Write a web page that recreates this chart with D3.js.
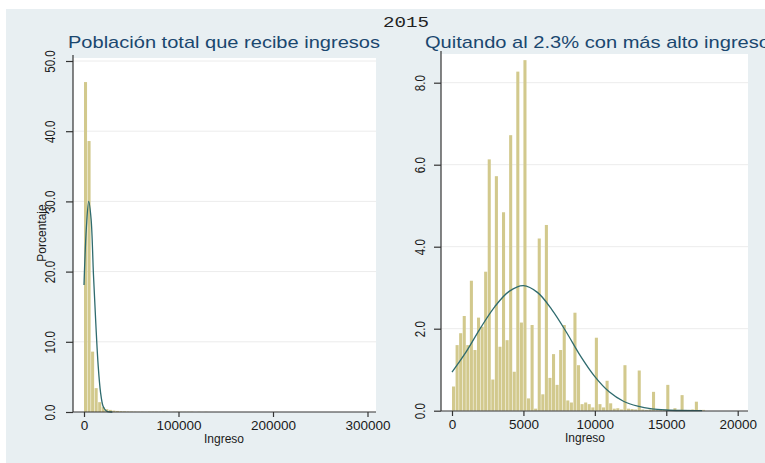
<!DOCTYPE html>
<html>
<head>
<meta charset="utf-8">
<script src="https://cdn.jsdelivr.net/npm/d3@7"></script>
<style>
body { margin: 0; background: #fff; }
svg { display: block; font-family: "Liberation Sans", Arial, sans-serif; }
</style>
</head>
<body>
<svg></svg>
<script>
var W = 765, H = 463;

// texts
var yearLabel = "2015";
var leftTitle = "Población total que recibe ingresos";
var rightTitle = "Quitando al 2.3% con más alto ingreso";
var xTitle = "Ingreso";
var yTitle = "Porcentaje";

// left panel: everybody with income, bins of 3750
var leftBinWidth = 3750;
var leftPct = [47.0, 38.6, 8.6, 3.4, 1.4, 0.7, 0.4, 0.3, 0.2, 0.15, 0.1, 0.08, 0.06, 0.05,
  0.04, 0.03, 0.03, 0.02, 0.03, 0.03, 0.03, 0.02, 0.03, 0.02, 0, 0.02, 0.03, 0.02, 0.02,
  0.02, 0.03, 0, 0.02, 0, 0.02, 0, 0, 0, 0, 0, 0, 0, 0, 0, 0, 0, 0, 0, 0, 0, 0, 0, 0, 0, 0.02];
var leftCurveX = [0, 2500, 5000, 7500, 10000, 12500, 15000, 17500, 20000, 22500, 25000, 30000];
var leftCurveY = [18.1, 26.2, 30.0, 27.5, 19.6, 12.6, 6.6, 2.8, 0.9, 0.3, 0.05, 0];
var leftXTicks = [0, 100000, 200000, 300000];
var leftYTicks = [0, 10, 20, 30, 40, 50];

// right panel: top 2.3% removed, bins of 250
var rightBinWidth = 250;
var rightPct = [0.59, 1.60, 1.89, 2.31, 1.60, 3.17, 1.48, 2.27, 2.05, 3.39,
  6.13, 0.76, 5.72, 1.56, 4.84, 1.72, 6.72, 0.95, 8.27, 2.15,
  8.55, 0.30, 2.09, 0.05, 4.20, 0.40, 4.53, 0.80, 1.38, 0.63,
  1.48, 2.09, 0.25, 0.20, 2.39, 1.11, 0.16, 0.20, 0.16, 0.08,
  1.78, 0.16, 0.08, 0.73, 0.18, 0.05, 0.06, 0.03, 1.11, 0.05,
  0.04, 0.03, 0.98, 0.03, 0.02, 0.03, 0.46, 0.02, 0.02, 0.03,
  0.63, 0.02, 0.06, 0.02, 0.38, 0.02, 0.02, 0.03, 0.22, 0.02, 0.02];
var rightCurveX = [0, 1000, 2000, 3000, 4000, 5000, 6000, 7000, 8000, 9000, 10000,
  11000, 12000, 13000, 14000, 15000, 16000, 17500];
var rightCurveY = [0.94, 1.44, 2.02, 2.54, 2.91, 3.05, 2.88, 2.46, 1.92, 1.33, 0.83,
  0.46, 0.23, 0.11, 0.045, 0.017, 0.005, 0];
var rightXTicks = [0, 5000, 10000, 15000, 20000];
var rightYTicks = [0, 2, 4, 6, 8];

var barColor = "#d2c98d";
var lineColor = "#2f6b6e";
var bgColor = "#e8eff2";
var textColor = "#1a1a1a";

var svg = d3.select("svg").attr("width", W).attr("height", H);

// background
svg.append("rect").attr("x", 0).attr("y", 0).attr("width", W).attr("height", H).attr("fill", "#fff");
svg.append("rect").attr("x", 6).attr("y", 9).attr("width", W - 6).attr("height", H - 9).attr("fill", bgColor);

svg.append("text")
  .attr("x", 383).attr("y", 27)
  .attr("textLength", 46).attr("lengthAdjust", "spacingAndGlyphs")
  .style("font-family", "'Liberation Mono', 'DejaVu Sans Mono', monospace")
  .style("font-size", "14px").attr("fill", "#222")
  .text(yearLabel);

function panel(o) {
  var g = svg.append("g");

  var x = d3.scaleLinear().domain(o.xDomain).range(o.xRange);
  var y = d3.scaleLinear().domain(o.yDomain).range(o.yRange);

  // plot region
  g.append("rect")
    .attr("x", o.box[0]).attr("y", o.box[1])
    .attr("width", o.box[2] - o.box[0]).attr("height", o.box[3] - o.box[1])
    .attr("fill", "#fff");

  // grid
  g.selectAll(".grid")
    .data(o.yTicks.filter(d => d > 0))
    .enter()
    .append("line")
      .attr("x1", o.box[0]).attr("x2", o.box[2])
      .attr("y1", d => y(d)).attr("y2", d => y(d))
      .attr("stroke", "#ececec").attr("stroke-width", 1);

  // bars
  g.selectAll(".bar")
    .data(o.pct)
    .enter()
    .append("rect")
      .attr("x", (d, i) => x(i * o.bw))
      .attr("width", (d, i) => x((i + 1) * o.bw) - x(i * o.bw) - 0.5)
      .attr("y", d => y(d))
      .attr("height", d => y(0) - y(d))
      .attr("fill", barColor);

  // normal curve
  var pts = o.curveX.map((d, i) => [d, o.curveY[i]]);
  g.append("path")
    .datum(pts)
    .attr("fill", "none")
    .attr("stroke", lineColor)
    .attr("stroke-width", 1.3)
    .attr("d", d3.line().x(d => x(d[0])).y(d => y(d[1])).curve(d3.curveCatmullRom));

  // y axis
  var ya = g.append("g")
    .attr("transform", "translate(" + o.box[0] + ",0)")
    .call(d3.axisLeft(y).tickValues(o.yTicks).tickSize(7).tickSizeOuter(0).tickFormat(d3.format(".1f")));
  ya.select(".domain").remove();
  ya.selectAll(".tick line").attr("stroke", "#333").attr("stroke-width", 1.2);
  ya.selectAll(".tick text")
    .attr("x", null).attr("dy", null).attr("y", null)
    .attr("transform", "translate(" + (-o.yLabelOff) + ",0) scale(1.2,1) rotate(-90)")
    .style("text-anchor", "middle")
    .style("font-size", "11.5px")
    .style("font-family", "'Liberation Sans', Arial, sans-serif")
    .attr("fill", textColor);
  g.append("line")
    .attr("x1", o.box[0]).attr("x2", o.box[0])
    .attr("y1", o.box[1] - 3).attr("y2", o.box[3])
    .attr("stroke", "#333").attr("stroke-width", 1.2);

  // x axis
  var xa = g.append("g")
    .attr("transform", "translate(0," + o.box[3] + ")")
    .call(d3.axisBottom(x).tickValues(o.xTicks).tickSize(5).tickSizeOuter(0).tickFormat(d3.format("d")));
  xa.select(".domain").remove();
  xa.selectAll(".tick line").attr("stroke", "#333").attr("stroke-width", 1.2);
  xa.selectAll(".tick text")
    .attr("y", 18).attr("dy", null)
    .style("font-size", "13.5px")
    .style("font-family", "'Liberation Sans', Arial, sans-serif")
    .attr("fill", textColor);
  g.append("line")
    .attr("x1", o.box[0]).attr("x2", o.box[2])
    .attr("y1", o.box[3]).attr("y2", o.box[3])
    .attr("stroke", "#333").attr("stroke-width", 1.2);

  // axis title
  g.append("text")
    .attr("x", o.xTitleX).attr("y", o.box[3] + 31)
    .attr("text-anchor", "middle")
    .style("font-size", "12px")
    .attr("fill", textColor)
    .text(xTitle);

  // panel title
  g.append("text")
    .attr("x", o.titleX).attr("y", 48)
    .attr("textLength", o.titleW).attr("lengthAdjust", "spacingAndGlyphs")
    .style("font-size", "17px")
    .attr("fill", "#1a476f")
    .text(o.title);

  return g;
}

var lp = panel({
  box: [73, 58, 376, 412],
  xDomain: [0, 300000], xRange: [84, 367.5],
  yDomain: [0, 50], yRange: [412, 61],
  pct: leftPct, bw: leftBinWidth,
  curveX: leftCurveX, curveY: leftCurveY,
  xTicks: leftXTicks, yTicks: leftYTicks,
  yLabelOff: 18, xTitleX: 224,
  title: leftTitle, titleX: 68, titleW: 312
});

lp.append("text")
  .attr("transform", "translate(46,233) rotate(-90)")
  .attr("text-anchor", "middle")
  .style("font-size", "12px")
  .attr("fill", textColor)
  .text(yTitle);

panel({
  box: [441, 54, 748, 411],
  xDomain: [0, 20000], xRange: [452, 737.7],
  yDomain: [0, 8], yRange: [410.7, 82.7],
  pct: rightPct, bw: rightBinWidth,
  curveX: rightCurveX, curveY: rightCurveY,
  xTicks: rightXTicks, yTicks: rightYTicks,
  yLabelOff: 16, xTitleX: 585,
  title: rightTitle, titleX: 425, titleW: 345
});
</script>
</body>
</html>
